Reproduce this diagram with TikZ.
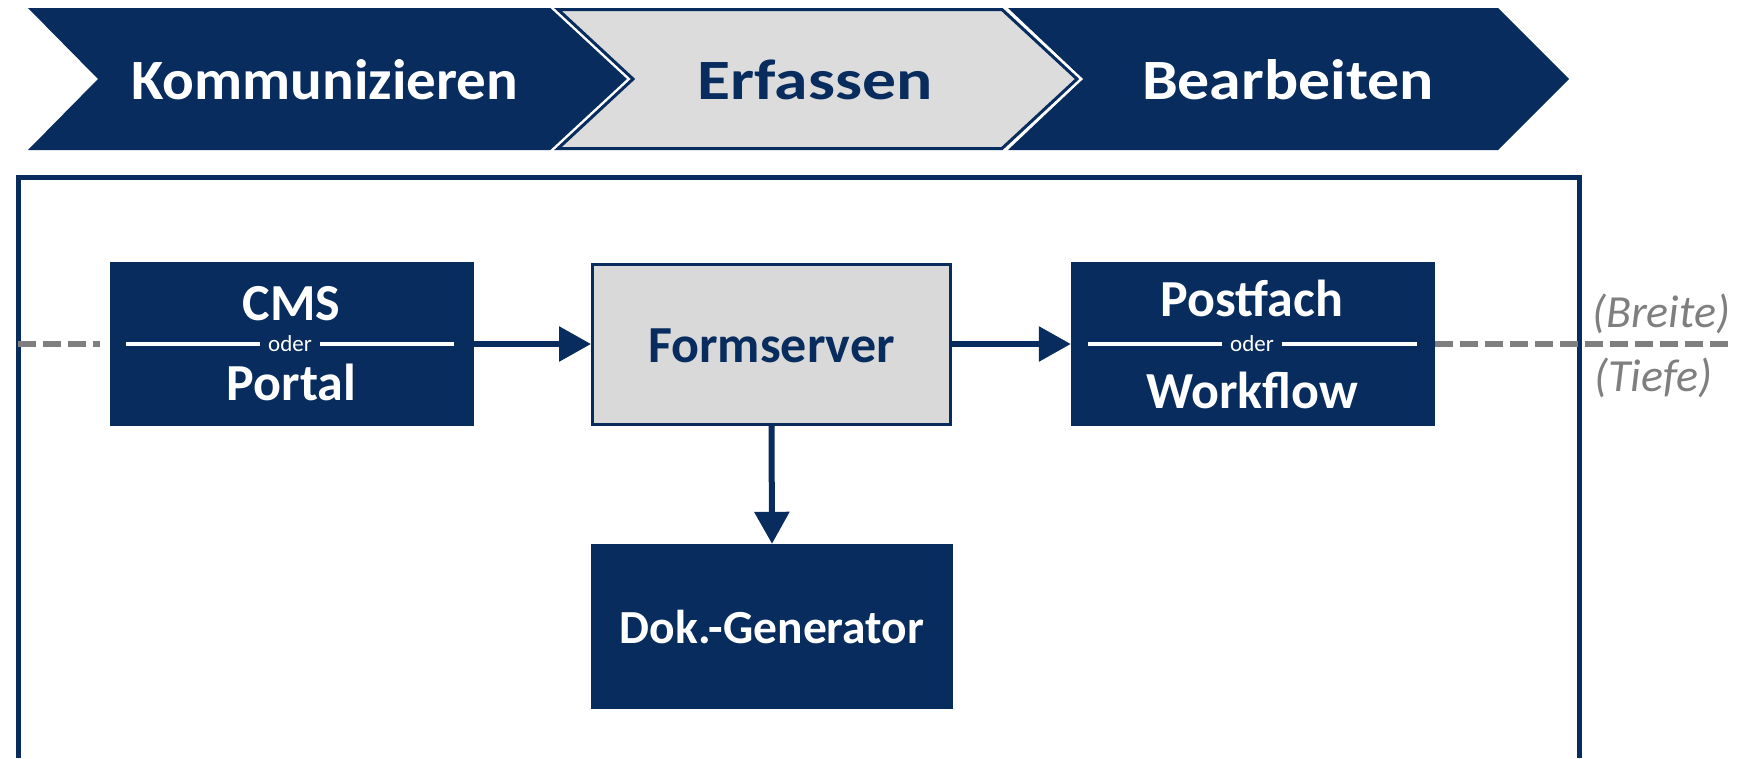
\documentclass[tikz,border=0pt]{standalone}
\usepackage{fontspec}
\usepackage{graphicx}
\setmainfont{Carlito}
\usetikzlibrary{arrows.meta}
\definecolor{navy}{HTML}{072C5D}
\definecolor{lgray}{HTML}{D9D9D9}
\definecolor{cgray}{HTML}{DCDCDC}
\definecolor{dgray}{HTML}{7F7F7F}
\newcommand\FS[1]{\fontsize{#1}{#1}\selectfont}
\begin{document}
\begin{tikzpicture}[x=1pt,y=-1pt,
  chevtxt/.style={inner sep=0pt, anchor=base, font=\bfseries\FS{57}},
  darkbox/.style={fill=navy, draw=none, inner sep=0pt, minimum width=364pt, minimum height=164pt},
  graybox/.style={fill=lgray, draw=navy, line width=3pt, inner sep=0pt, minimum width=358pt, minimum height=160pt},
  boxtxt/.style={inner sep=0pt, anchor=base, text=white, font=\bfseries\FS{52}},
  ortxt/.style={inner sep=8pt, anchor=base, text=white, font=\FS{23}},
  divider/.style={draw=white, line width=4pt},
  arr/.style={draw=navy, line width=6pt, -{Triangle[length=32pt,width=34pt]}},
  dashline/.style={draw=dgray, line width=5.5pt, dash pattern=on 18pt off 7pt},
  sidetxt/.style={inner sep=0pt, anchor=base west, text=dgray, font=\itshape\FS{46}}]
\useasboundingbox (0,0) rectangle (1744,758);
% process chevrons
\fill[navy] (28,8) -- (553,8) -- (628,79) -- (553,150) -- (28,150) -- (98,79) -- cycle;
\fill[navy] (1008,8) -- (1498,8) -- (1569,79) -- (1498,150) -- (1008,150) -- (1083,79) -- cycle;
\draw[white, line width=8pt, line join=miter] (558,9.5) -- (1002,9.5) -- (1077,79) -- (1002,148.5) -- (558,148.5) -- (633,79) -- cycle;
\filldraw[fill=cgray, draw=navy, line width=3pt, line join=miter] (558,9.5) -- (1002,9.5) -- (1077,79) -- (1002,148.5) -- (558,148.5) -- (633,79) -- cycle;
\node[chevtxt, text=white] (k1) at (325,99.5) {\scalebox{1.037}[1]{Kommunizieren}};
\node[chevtxt, text=navy] (k2) at (815,99.5) {\scalebox{1.186}[1]{Erfassen}};
\node[chevtxt, text=white] (k3) at (1288,99.5) {\scalebox{1.12}[1]{Bearbeiten}};
% frame
\draw[navy, line width=5pt] (18,758) -- (18,177) -- (1579,177) -- (1579,758);
% boxes
\node[darkbox] (cms) at (291.5,344) {};
\node[graybox] (form) at (771.5,344) {};
\node[darkbox] (post) at (1253,344) {};
\node[darkbox, minimum width=362pt, minimum height=165pt] (dok) at (772,626.5) {};
% box texts
\node[boxtxt] (cmsA) at (291.5,320.5) {CMS};
\node[ortxt] (cmsOr) at (290,351) {oder};
\node[boxtxt] (cmsB) at (291.5,400) {Portal};
\node[boxtxt] (postA) at (1252,316) {Postfach};
\node[ortxt] (postOr) at (1252,351) {oder};
\node[boxtxt] (postB) at (1252,408) {Workflow};
\node[boxtxt, text=navy] (formT) at (771.5,362) {Formserver};
\node[boxtxt, font=\bfseries\FS{47.5}] (dokT) at (772,643) {Dok.-Generator};
% dividers
\draw[divider] ([xshift=17pt]cms.west) -- (cmsOr.west |- cms.west);
\draw[divider] (cmsOr.east |- cms.east) -- ([xshift=-20pt]cms.east);
\draw[divider] ([xshift=17pt]post.west) -- (postOr.west |- post.west);
\draw[divider] (postOr.east |- post.east) -- ([xshift=-18pt]post.east);
% dashed axis
\coordinate (dl) at (18,344);
\coordinate (dr) at (1733,344);
\draw[dashline, shorten >=9pt] (dl) -- (cms.west);
\draw[dashline] (post.east) -- (dr);
\node[sidetxt] (breite) at (1592,327) {(Breite)};
\node[sidetxt] (tiefe) at (1594,391) {(Tiefe)};
% arrows
\draw[arr] (cms.east) -- (form.west);
\draw[arr] (form.east) -- (post.west);
\draw[arr] (form.south) -- (dok.north);
\end{tikzpicture}
\end{document}
